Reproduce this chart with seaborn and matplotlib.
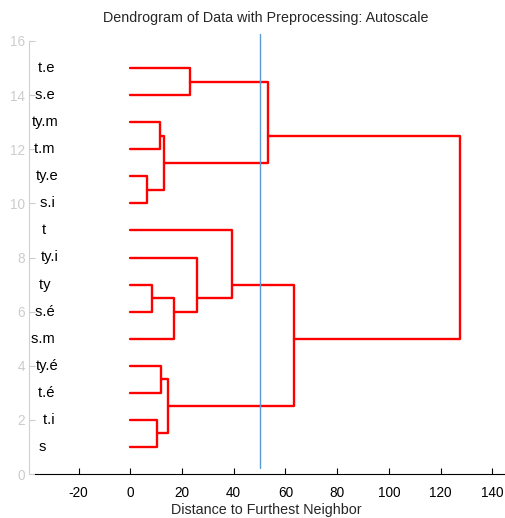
import pandas as pd
import matplotlib.pyplot as plt
import seaborn as sns

# leaves from bottom (y=1) to top (y=15)
leaf_labels = ["s", "t.i", "t.é", "ty.é", "s.m", "s.é", "ty", "ty.i", "t",
               "s.i", "ty.e", "t.m", "ty.m", "s.e", "t.e"]

# linkage table, ids >= 15 point to earlier merges (scipy style)
merge_left = [9, 6, 0, 11, 2, 15, 17, 16, 13, 22, 24, 20, 21, 26]
merge_right = [10, 5, 1, 12, 3, 18, 19, 4, 14, 7, 8, 23, 25, 27]
merge_height = [6.3, 8.5, 10.2, 11.5, 12.0, 13.1, 14.5, 16.9, 23.1,
                25.7, 39.3, 53.2, 63.2, 127.5]

cutoff = 50
x_ticks = [-20, 0, 20, 40, 60, 80, 100, 120, 140]
y_ticks = [0, 2, 4, 6, 8, 10, 12, 14, 16]

# node positions: leaf y = order, cluster y = mean of its leaves
n = len(leaf_labels)
members = {i: [i + 1] for i in range(n)}
height = {i: 0.0 for i in range(n)}
rows = []
for k, (a, b, h) in enumerate(zip(merge_left, merge_right, merge_height)):
    node = n + k
    members[node] = members[a] + members[b]
    height[node] = h
    ya = sum(members[a]) / len(members[a])
    yb = sum(members[b]) / len(members[b])
    for x, y in [(height[a], ya), (h, ya), (h, yb), (height[b], yb)]:
        rows.append({"link": k, "x": x, "y": y})
links = pd.DataFrame(rows)

sns.set_style("white")
plt.rcParams["font.family"] = ["Liberation Sans", "DejaVu Sans"]
plt.rcParams["axes.unicode_minus"] = False

fig = plt.figure(figsize=(5.06, 5.18), dpi=100)
ax = fig.add_axes([35 / 506, 44 / 518, 471 / 506, 433 / 518])

sns.lineplot(data=links, x="x", y="y", units="link", estimator=None,
             sort=False, color="#ff0000", linewidth=1.7, legend=False, ax=ax)

ax.plot([cutoff, cutoff], [0.22, 16.26], color="#5b9bd5", lw=1.0,
        clip_on=False, zorder=3)

# labels padded with trailing spaces, right aligned (char-array style)
width = max(len(s) for s in leaf_labels)
for i, lab in enumerate(leaf_labels):
    ax.text(-27.6, i + 1, lab.ljust(width), ha="right", va="center",
            fontsize=10.6, color="black")

ax.set_xlim(-36.85, 145.3)
ax.set_ylim(0, 16)
ax.set_xticks(x_ticks)
ax.set_yticks(y_ticks)
ax.tick_params(axis="x", direction="in", length=4, width=0.8, pad=8.5,
               labelsize=9.8, colors="black", bottom=True)
ax.tick_params(axis="y", direction="in", length=4, width=0.8, pad=3,
               labelsize=9.8, colors="#cccccc", left=True)
for s in ["top", "right"]:
    ax.spines[s].set_visible(False)
ax.spines["bottom"].set_color("black")
ax.spines["bottom"].set_linewidth(0.8)
ax.spines["left"].set_color("#d0d0d0")
ax.spines["left"].set_linewidth(0.8)
ax.spines["left"].set_position(("outward", 4.2))

ax.set_xlabel("Distance to Furthest Neighbor", fontsize=10.3)
ax.xaxis.set_label_coords(0.4915, -0.083)
ax.xaxis.label.set_va("center")
ax.set_ylabel("")

fig.text(265.5 / 506, 1 - 18 / 518,
         "Dendrogram of Data with Preprocessing: Autoscale",
         ha="center", va="center", fontsize=10.3)

fig.savefig("out.png", dpi=100)
